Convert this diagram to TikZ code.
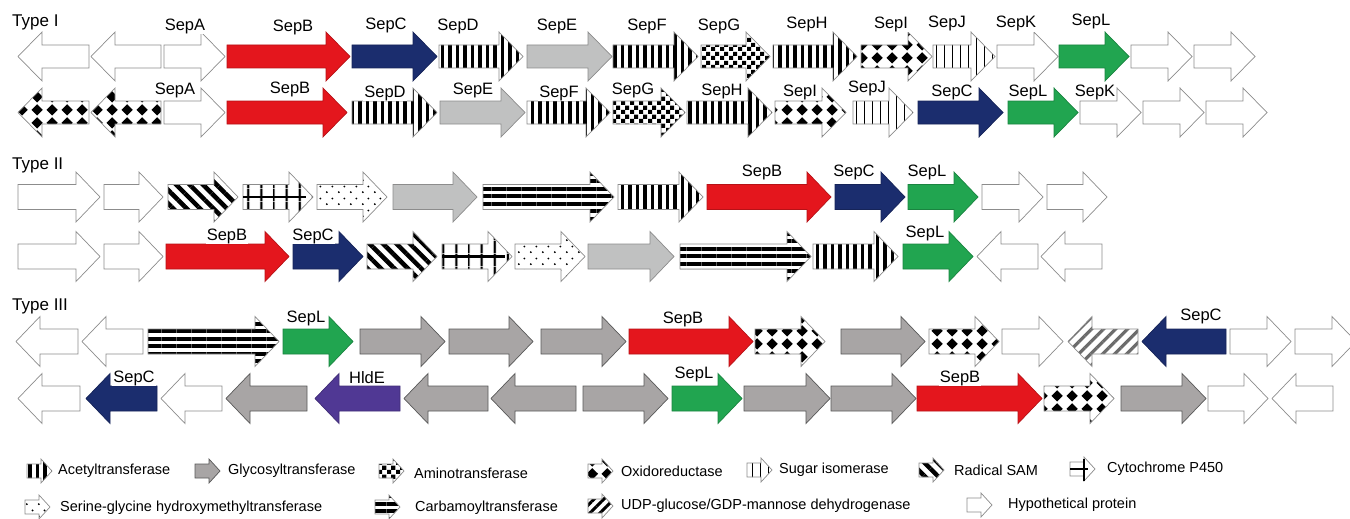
\documentclass[tikz,border=0pt]{standalone}
\usepackage{fontspec}
\setmainfont{Liberation Sans}
\usetikzlibrary{patterns,patterns.meta}

\definecolor{cRed}{RGB}{228,22,29}
\definecolor{cNavy}{RGB}{27,45,110}
\definecolor{cGreen}{RGB}{33,165,80}
\definecolor{cPurple}{RGB}{80,56,148}
\definecolor{cGray}{RGB}{192,193,193}
\definecolor{cGrayD}{RGB}{168,165,165}
\definecolor{cEdge}{RGB}{140,140,140}

\pgfdeclarepatternformonly{chk}{\pgfpointorigin}{\pgfpoint{9pt}{9pt}}{\pgfpoint{9pt}{9pt}}{%
  \pgfpathrectangle{\pgfpointorigin}{\pgfpoint{4.5pt}{4.5pt}}%
  \pgfpathrectangle{\pgfpoint{4.5pt}{4.5pt}}{\pgfpoint{4.5pt}{4.5pt}}%
  \pgfusepath{fill}}
\pgfdeclarepatternformonly{oxd}{\pgfpointorigin}{\pgfpoint{15pt}{13pt}}{\pgfpoint{15pt}{13pt}}{%
  \pgfpathmoveto{\pgfpoint{7.5pt}{0.5pt}}%
  \pgfpathlineto{\pgfpoint{13.5pt}{6.5pt}}%
  \pgfpathlineto{\pgfpoint{7.5pt}{12.5pt}}%
  \pgfpathlineto{\pgfpoint{1.5pt}{6.5pt}}%
  \pgfpathclose\pgfusepath{fill}%
  \pgfpathcircle{\pgfpoint{7.5pt}{6.5pt}}{3.8pt}\pgfusepath{fill}}
\pgfdeclarepatternformonly{dts}{\pgfpointorigin}{\pgfpoint{12pt}{12pt}}{\pgfpoint{12pt}{12pt}}{%
  \pgfpathcircle{\pgfpoint{3pt}{3pt}}{1.1pt}%
  \pgfpathcircle{\pgfpoint{9pt}{9pt}}{1.1pt}%
  \pgfusepath{fill}}

% right-pointing gene: start, tip, style ; left-pointing gene: tip, end, style
\newcommand{\geneR}[3]{\path[gn,#3] (#1,\ry-\bh) -- ({#2-\hl},\ry-\bh) -- ({#2-\hl},\ry-\hh) -- (#2,\ry) -- ({#2-\hl},\ry+\hh) -- ({#2-\hl},\ry+\bh) -- (#1,\ry+\bh) -- cycle;}
\newcommand{\geneL}[3]{\path[gn,#3] (#2,\ry-\bh) -- ({#1+\hl},\ry-\bh) -- ({#1+\hl},\ry-\hh) -- (#1,\ry) -- ({#1+\hl},\ry+\hh) -- ({#1+\hl},\ry+\bh) -- (#2,\ry+\bh) -- cycle;}
% cytochrome P450 gene (grid): start, tip
\newcommand{\cypR}[2]{\geneR{#1}{#2}{cyp}\draw[line width=2.4pt] (#1,\ry) -- ({#2-7},\ry);}
% legend icon: x, y, style
\newcommand{\legicon}[3]{\path[gn,#3] (#1,#2-7) -- (#1+14,#2-7) -- (#1+14,#2-12) -- (#1+25,#2) -- (#1+14,#2+12) -- (#1+14,#2+7) -- (#1,#2+7) -- cycle;}

\tikzset{
  gn/.style={draw=cEdge, line width=0.7pt},
  hyp/.style={fill=white},
  gB/.style={fill=cRed, draw=cRed!80!black},
  gC/.style={fill=cNavy, draw=cNavy!80!black},
  gLg/.style={fill=cGreen, draw=cGreen!80!black},
  gH/.style={fill=cPurple, draw=cPurple!80!black},
  gly/.style={fill=cGray},
  glyd/.style={fill=cGrayD, draw=gray!70!black},
  acet/.style={pattern={Lines[angle=90,distance=7.5pt,line width=3.8pt]}},
  amino/.style={pattern=chk},
  oxi/.style={pattern=oxd},
  sug/.style={pattern={Lines[angle=90,distance=8pt,line width=0.9pt]}},
  rad/.style={pattern={Lines[angle=-45,distance=9.5pt,line width=4.5pt]}},
  cyp/.style={pattern={Lines[angle=90,distance=13pt,line width=2.4pt]}},
  ser/.style={pattern=dts},
  carb/.style={pattern={Lines[angle=0,distance=7.5pt,line width=4pt]}},
  udp/.style={pattern={Lines[angle=45,distance=8.5pt,line width=3.2pt]}, pattern color=gray!85!black},
  udpk/.style={pattern={Lines[angle=45,distance=7pt,line width=3pt]}},
  lab/.style={font=\fontsize{16.5}{19}\selectfont, inner sep=1pt, fill=white},
  typ/.style={font=\fontsize{17}{20}\selectfont, anchor=west, inner sep=0pt},
  leg/.style={font=\fontsize{14.5}{16}\selectfont, anchor=west, inner sep=0pt},
}

\begin{document}
\begin{tikzpicture}[x=1pt,y=-1pt]
\useasboundingbox (0,0) rectangle (1350,519);
\def\hl{24}

% ---------------- Type I ----------------
\node[typ] (t1) at (12,22) {Type I};
\def\ry{56.5}\def\bh{11.5}\def\hh{24.5}
\geneL{18}{89}{hyp}
\geneL{91}{161}{hyp}
\geneR{164}{225}{hyp}
\geneR{227}{350}{gB}
\geneR{352}{437}{gC}
\geneR{439}{523}{acet}
\geneR{527}{612}{gly}
\geneR{613}{698}{acet}
\geneR{701}{770}{amino}
\geneR{773}{857}{acet}
\geneR{861}{932}{oxi}
\geneR{933}{995}{sug}
\geneR{997}{1058}{hyp}
\geneR{1059}{1129}{gLg}
\geneR{1131}{1192}{hyp}
\geneR{1194}{1255}{hyp}

\def\ry{112.5}
\geneL{18}{89}{oxi}
\geneL{91}{161}{oxi}
\geneR{164}{225}{hyp}
\geneR{227}{347}{gB}
\geneR{352}{437}{acet}
\geneR{440}{525}{gly}
\geneR{527}{610}{acet}
\geneR{613}{685}{amino}
\geneR{687}{772}{acet}
\geneR{775}{846}{oxi}
\geneR{853}{913}{sug}
\geneR{918}{1003}{gC}
\geneR{1008}{1078}{gLg}
\geneR{1080}{1141}{hyp}
\geneR{1143}{1204}{hyp}
\geneR{1206}{1267}{hyp}

\node[lab] (a1) at (185,26) {SepA};
\node[lab] (b1) at (293,27) {SepB};
\node[lab] (c1) at (386,25.5) {SepC};
\node[lab] (d1) at (458,26) {SepD};
\node[lab] (e1) at (557,26) {SepE};
\node[lab] (f1) at (647,26) {SepF};
\node[lab] (g1) at (719,26) {SepG};
\node[lab] (h1) at (807,24) {SepH};
\node[lab] (i1) at (891,24) {SepI};
\node[lab] (j1) at (947,23.5) {SepJ};
\node[lab] (k1) at (1016,23.5) {SepK};
\node[lab] (l1) at (1091,21) {SepL};

\node[lab] (a2) at (175,90) {SepA};
\node[lab] (b2) at (290,89) {SepB};
\node[lab] (d2) at (385,93) {SepD};
\node[lab] (e2) at (473,90) {SepE};
\node[lab] (f2) at (559,93) {SepF};
\node[lab] (g2) at (633,90) {SepG};
\node[lab] (h2) at (722,91) {SepH};
\node[lab] (i2) at (800,92) {SepI};
\node[lab] (j2) at (867,88) {SepJ};
\node[lab] (c2) at (952,92) {SepC};
\node[lab] (l2) at (1028,92) {SepL};
\node[lab] (k2) at (1095,92) {SepK};

% ---------------- Type II ----------------
\node[typ] (t2) at (12,165) {Type II};
\def\ry{197}\def\bh{12.5}\def\hh{25}
\geneR{18}{100}{hyp}
\geneR{104}{163}{hyp}
\geneR{168}{238}{rad}
\cypR{243}{313}
\geneR{317}{387}{ser}
\geneR{393}{477}{gly}
\geneR{483}{614}{carb}
\geneR{618}{703}{acet}
\geneR{707}{831}{gB}
\geneR{835}{905}{gC}
\geneR{908}{978}{gLg}
\geneR{982}{1043}{hyp}
\geneR{1047}{1107}{hyp}

\def\ry{256.5}
\geneR{18}{100}{hyp}
\geneR{104}{163}{hyp}
\geneR{166}{289}{gB}
\geneR{293}{363}{gC}
\geneR{367}{437}{rad}
\cypR{442}{512}
\geneR{515}{585}{ser}
\geneR{588}{674}{gly}
\geneR{680}{811}{carb}
\geneR{813}{898}{acet}
\geneR{903}{973}{gLg}
\geneL{977}{1038}{hyp}
\geneL{1041}{1102}{hyp}

\node[lab] (b3) at (762,172) {SepB};
\node[lab] (c3) at (854,172) {SepC};
\node[lab] (l3) at (927,172) {SepL};
\node[lab] (b4) at (227,236) {SepB};
\node[lab] (c4) at (313,236) {SepC};
\node[lab] (l4) at (925,233) {SepL};

% ---------------- Type III ----------------
\node[typ] (t3) at (12,306) {Type III};
\def\ry{341.5}
\geneL{16}{78}{hyp}
\geneL{82}{143}{hyp}
\geneR{148}{279}{carb}
\geneR{283}{353}{gLg}
\geneR{360}{445}{glyd}
\geneR{449}{533}{glyd}
\geneR{541}{626}{glyd}
\geneR{629}{753}{gB}
\geneR{755}{825}{oxi}
\geneR{841}{925}{glyd}
\geneR{929}{999}{oxi}
\geneR{1002}{1063}{hyp}
\geneL{1068}{1138}{udp}
\geneL{1142}{1226}{gC}
\geneR{1230}{1291}{hyp}
\geneR{1295}{1356}{hyp}

\def\ry{398.5}
\geneL{18}{80}{hyp}
\geneL{86}{157}{gC}
\geneL{161}{222}{hyp}
\geneL{226}{307}{glyd}
\geneL{315}{400}{gH}
\geneL{404}{488}{glyd}
\geneL{491}{576}{glyd}
\geneR{583}{668}{glyd}
\geneR{672}{742}{gLg}
\geneR{744}{830}{glyd}
\geneR{831}{916}{glyd}
\geneR{917}{1042}{gB}
\geneR{1044}{1114}{oxi}
\geneR{1121}{1206}{glyd}
\geneR{1208}{1268}{hyp}
\geneL{1272}{1333}{hyp}

\node[lab] (l5) at (306,318) {SepL};
\node[lab] (b5) at (683,319) {SepB};
\node[lab] (c5) at (1201,316) {SepC};
\node[lab] (c6) at (134,378) {SepC};
\node[lab] (hl6) at (367,378) {HldE};
\node[lab] (l6) at (694,374) {SepL};
\node[lab] (b6) at (960,378) {SepB};

% ---------------- Legend ----------------
\legicon{27}{471}{acet}   \node[leg] (lg1) at (58,471) {Acetyltransferase};
\legicon{195}{471}{glyd}  \node[leg] (lg2) at (228,471) {Glycosyltransferase};
\legicon{379}{471}{amino} \node[leg] (lg3) at (414,473) {Aminotransferase};
\legicon{588}{471}{oxi}   \node[leg] (lg4) at (621,471) {Oxidoreductase};
\legicon{747}{470}{sug}   \node[leg] (lg5) at (779,470) {Sugar isomerase};
\legicon{919}{470}{rad}   \node[leg] (lg6) at (954,470) {Radical SAM};
\legicon{1070}{469}{hyp}  \node[leg] (lg7) at (1107,469) {Cytochrome P450};
\draw[line width=2.4pt] (1070,469) -- (1088,469);
\draw[line width=2.4pt] (1084,459) -- (1084,481);
\legicon{25}{507}{ser}    \node[leg] (lg8) at (60,508) {Serine-glycine hydroxymethyltransferase};
\legicon{375}{507}{carb}  \node[leg] (lg9) at (415,508) {Carbamoyltransferase};
\legicon{588}{506}{udpk}  \node[leg] (lg10) at (621,506) {UDP-glucose/GDP-mannose dehydrogenase};
\legicon{967}{505}{hyp}   \node[leg] (lg11) at (1008,505) {Hypothetical protein};
\end{tikzpicture}
\end{document}
